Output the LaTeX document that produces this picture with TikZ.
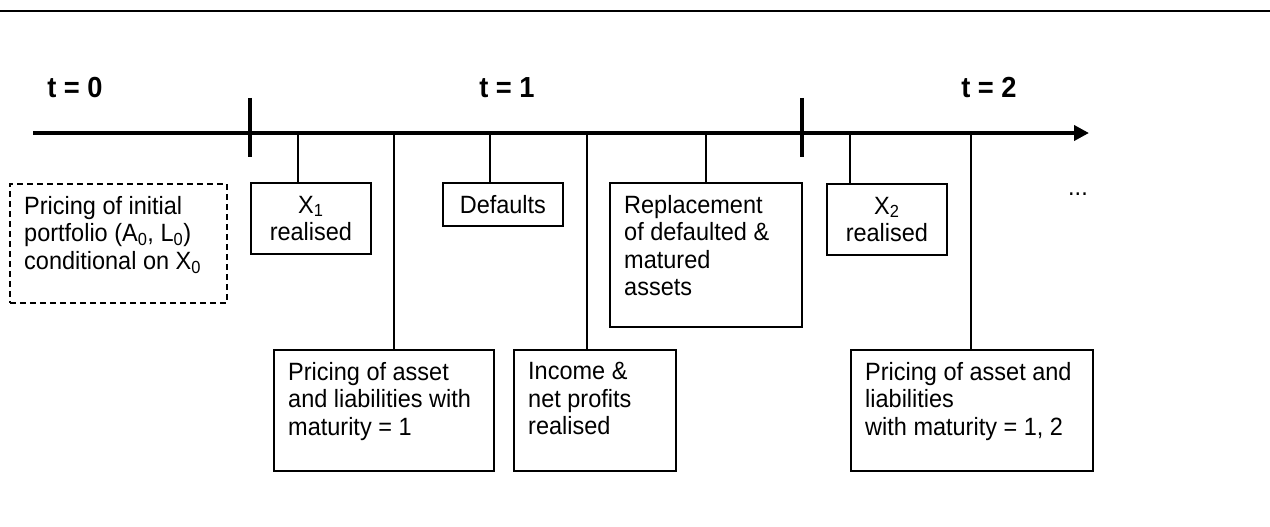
\documentclass[tikz,border=0pt]{standalone}
\usepackage{fontspec}
\setmainfont{Liberation Sans}[FakeStretch=0.94]
\usetikzlibrary{arrows.meta}

\tikzset{
    evtext/.style={font=\fontsize{25}{27.5}\selectfont},
    tlabel/.style={font=\fontsize{29}{32}\selectfont\bfseries},
    evbox/.style={draw, line width=1.8pt, anchor=north west, inner sep=0pt, evtext, align=center},
    toptext/.style={label={[anchor=north west, align=left, inner xsep=15pt, inner ysep=13pt, evtext]north west:{#1}}},
    drop/.style={line width=1.6pt},
    tick/.style={line width=4pt},
    timeline/.style={line width=4pt, -{Triangle[length=15pt, width=15pt]}},
}

\begin{document}
\begin{tikzpicture}[x=1pt, y=-1pt]
    \useasboundingbox (0, 0) rectangle (1270, 527);
    \coordinate (ruleL) at (0, 11);
    \coordinate (ruleR) at (1270, 11);
    \draw[line width=2pt] (ruleL) -- (ruleR);

    % periods
    \node[tlabel] (tzero) at (75, 88) {t = 0};
    \node[tlabel] (tone) at (507, 88) {t = 1};
    \node[tlabel] (ttwo) at (989, 88) {t = 2};

    % events above the line
    \node[evbox, dash pattern=on 6pt off 4pt, minimum width=217pt, minimum height=119pt,
        toptext={Pricing of initial\\portfolio (A\textsubscript{0}, L\textsubscript{0})\\conditional on X\textsubscript{0}}] (init) at (9, 183) {};
    \node[evbox, minimum width=120pt, minimum height=71pt] (xone) at (250, 182) {X\textsubscript{1}\\realised};
    \node[evbox, minimum width=120pt, minimum height=43pt] (def) at (442, 182) {Defaults};
    \node[evbox, minimum width=192pt, minimum height=144pt,
        toptext={Replacement\\of defaulted \&\\matured\\assets}] (repl) at (609, 182) {};
    \node[evbox, minimum width=120pt, minimum height=71pt] (xtwo) at (826, 183) {X\textsubscript{2}\\realised};
    \node[evtext, anchor=base] (more) at (1078, 195) {...};

    % events below
    \node[evbox, minimum width=220pt, minimum height=121pt,
        toptext={Pricing of asset\\and liabilities with\\maturity = 1}] (prone) at (273, 349) {};
    \node[evbox, minimum width=162pt, minimum height=121pt,
        toptext={Income \&\\net profits\\realised}] (inc) at (513, 349) {};
    \node[evbox, minimum width=242pt, minimum height=121pt,
        toptext={Pricing of asset and\\liabilities\\with maturity = 1, 2}] (prtwo) at (850, 349) {};

    % drops from the time line
    \foreach \x/\tgt in {298/xone, 394/prone, 490/def, 587/inc, 706/repl, 850/xtwo, 971/prtwo} {
        \coordinate (d\x) at (\x, 133);
        \draw[drop] (d\x) -- (d\x |- \tgt.north);
    }

    \coordinate (tstart) at (33, 133);
    \coordinate (tend) at (1089, 133);
    \draw[timeline] (tstart) -- (tend);
    \foreach \x in {250, 802}
        \draw[tick] (\x, 98) -- (\x, 157);
\end{tikzpicture}
\end{document}
